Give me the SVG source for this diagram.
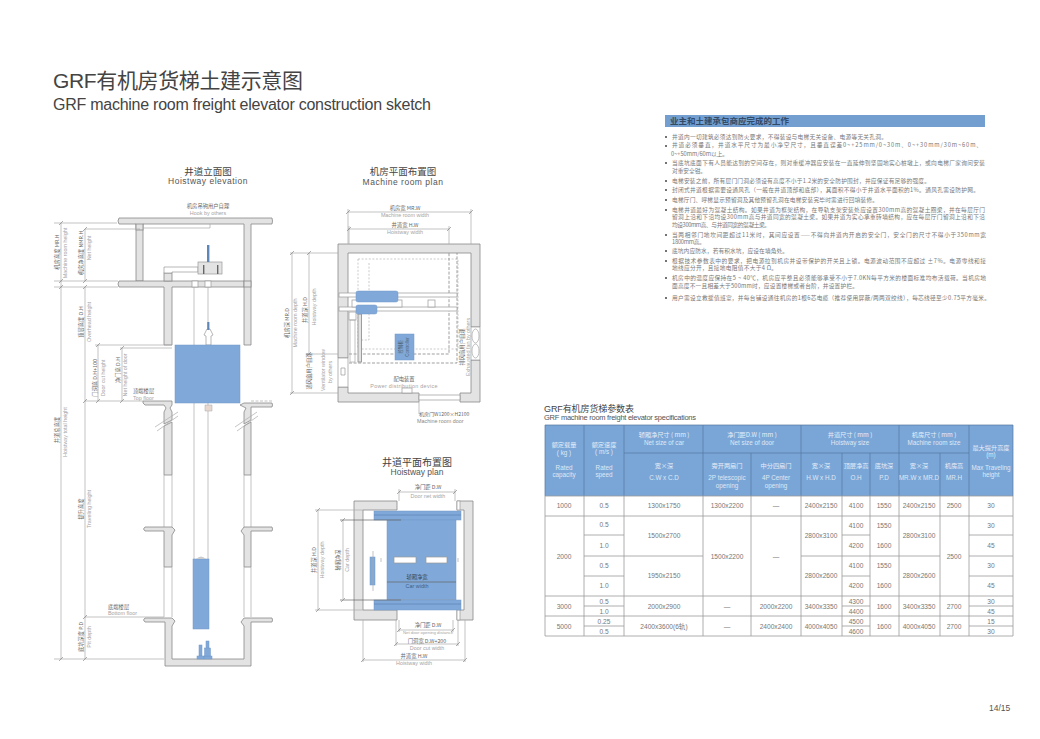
<svg xmlns="http://www.w3.org/2000/svg" width="1040" height="739" viewBox="0 0 1040 739">
<style>
text{font-family:"Liberation Sans","Noto Sans CJK SC",sans-serif}
.zh{font-family:"Noto Sans CJK SC","Liberation Sans",sans-serif;font-size:5.3px;fill:#666}
.en{font-size:5.4px;fill:#a5a5a5}
.m{text-anchor:middle}
.w{fill:#e3e3e3;stroke:#888;stroke-width:.8}
.b{fill:#80a9d9;stroke:#7098c8;stroke-width:.5}
.s{fill:#fff;stroke:#999;stroke-width:.7}
.d{fill:none;stroke:#b5b5b5;stroke-width:.7;stroke-dasharray:2 1.6}
.dk{fill:none;stroke:#777;stroke-width:.7;stroke-dasharray:3 1.6}
.l{fill:none;stroke:#aaa;stroke-width:.7}
.tick{fill:none;stroke:#777;stroke-width:.6}
.ln{font-family:"Noto Sans CJK SC","Liberation Sans",sans-serif;font-size:5.7px;fill:#777}
.h{fill:#dfe9f6;font-size:6.3px;text-anchor:middle}
.hz{fill:#e6eef9;font-family:"Noto Sans CJK SC","Liberation Sans",sans-serif;font-size:6.2px;text-anchor:middle}
.c{fill:#777;font-size:6.6px;text-anchor:middle}
.tl{stroke:#999;stroke-width:.8;fill:none}
.hl{stroke:#55779e;stroke-width:.7;fill:none}
</style>

<g id="title">
<text x="53" y="88" font-size="21" fill="#444" textLength="250" lengthAdjust="spacing">GRF有机房货梯土建示意图</text>
<text x="53" y="110" font-size="16" fill="#444" textLength="378" lengthAdjust="spacing">GRF machine room freight elevator construction sketch</text>
</g>

<g id="hoistway-elevation">
<text x="208" y="175" class="m" font-size="9.500" fill="#444" font-family="Noto Sans CJK SC">井道立面图</text>
<text x="208" y="184" class="m" font-size="8.500" fill="#555" letter-spacing=".5">Hoistway elevation</text>
<text x="208" y="208" class="zh m">机房吊钩用户自理</text>
<text x="208" y="215" class="en m">Hook by others</text>
<path class="w" d="M119 218H272Q273 221 272 224H251V345H244V224H143V281H136V224H119Q117 221 119 218Z"/>
<rect class="w" x="136" y="224" width="7" height="6"/>
<path class="w" d="M119 281H244V287H172V345H164V287H119Q117 284 119 281Z"/>
<rect class="w" x="244" y="281" width="7" height="6" stroke="none"/>
<rect class="w" x="164" y="273" width="8" height="8"/>
<path class="s" d="M164 273V267H198V272H172V273Z"/>
<path class="l" d="M210 224V228H143"/>
<rect x="192" y="281" width="6" height="6" class="s"/><rect x="205" y="281" width="6" height="6" class="s"/>
<rect x="198" y="262" width="24" height="12" fill="#e3e3e3" stroke="#999" stroke-width=".7"/>
<rect x="207" y="245" width="2.400" height="17" fill="#5f86b8"/>
<rect x="203" y="265" width="1.400" height="9" fill="#666"/><rect x="217" y="265" width="1.400" height="9" fill="#666"/>
<path class="l" d="M194 287V559M208 287V322M208 403V559"/>
<path class="s" d="M207 329H210L213 335L211 336V345H206V336L204 335Z"/>
<rect x="207.200" y="322" width="2.200" height="8" fill="#5f86b8"/>
<rect class="b" x="175" y="345" width="65" height="58"/>
<path d="M205 405H212V411H205Z" fill="#e8d8d0" stroke="#aaa" stroke-width=".5"/>
<path class="w" d="M143 401H172V405L170 408L172 412V420L164 424V412L166 408L164 405H145Q142 403 143 401Z"/>
<path class="w" d="M244 403H272Q273 405 272 407H251V420L244 424V412L246 408L240 405Z"/>
<path class="l" d="M251 401H272" stroke-dasharray="3 1.500"/>
<path class="w" d="M164 426L172 422V475H164Z"/><path class="w" d="M244 426L251 422V475H244Z"/>
<path class="l" d="M155 427L178 412M157 431L178 416M235 427L257 412M237 431L258 416"/>
<path class="l" d="M164 475V527M172 475V527M244 475V527M251 475V527"/>
<path class="w" d="M145 527H172L175 530L172 535V567H164V531H145Q142 529 145 527Z"/>
<path class="w" d="M272 527Q273 529 272 531H251V567H244V535L241 531L244 527Z"/>
<path class="l" d="M164 567V617M172 567V617M244 567V617M251 567V617"/>
<path class="w" d="M145 618H172L175 621L172 626V659H244V626L241 622L244 618H272Q273 620 272 622H251V666H165V622H145Q142 620 145 618Z"/>
<rect class="b" x="193" y="559" width="16" height="70"/>
<path d="M196 559Q201 554 206 559Z" fill="#ccc"/>
<g class="b"><rect x="199" y="645" width="3" height="11"/><rect x="197" y="656" width="7" height="3"/><rect x="206" y="641" width="3" height="15"/><rect x="204" y="656" width="8" height="3"/><rect x="204.500" y="648" width="6" height="8"/></g>
<text transform="translate(59 252) rotate(-90)" class="zh m">机房高度 MR.H</text>
<text transform="translate(67 253) rotate(-90)" class="en m">Machine room height</text>
<text transform="translate(83 253) rotate(-90)" class="zh m">机房净高度 NMR.H</text>
<text transform="translate(91 248) rotate(-90)" class="en m">Net height</text>
<text transform="translate(83 322) rotate(-90)" class="zh m">顶层高度 O.H</text>
<text transform="translate(91 322) rotate(-90)" class="en m">Overhead height</text>
<text transform="translate(97 378) rotate(-90)" class="zh m">门洞高 D.H+100</text>
<text transform="translate(105 378) rotate(-90)" class="en m">Door cut height</text>
<text transform="translate(120 370) rotate(-90)" class="zh m">净门高 D.H</text>
<text transform="translate(127 375) rotate(-90)" class="en m">Net height of door</text>
<text x="133" y="393" class="zh">顶端楼层</text>
<text x="133" y="400" class="en">Top floor</text>
<text transform="translate(59 430) rotate(-90)" class="zh m">井道总高度</text>
<text transform="translate(67 432) rotate(-90)" class="en m">Hoistway total height</text>
<text transform="translate(83 509) rotate(-90)" class="zh m">提升高度</text>
<text transform="translate(91 509) rotate(-90)" class="en m">Traveling height</text>
<text x="108" y="609" class="zh">底端楼层</text>
<text x="108" y="615" class="en">Bottom floor</text>
<text transform="translate(83 637) rotate(-90)" class="zh m">底坑深度 P.D</text>
<text transform="translate(91 637) rotate(-90)" class="en m">Pit depth</text>
</g>

<g id="machine-room-plan">
<text x="403" y="175" class="m" font-size="9.500" fill="#444" font-family="Noto Sans CJK SC">机房平面布置图</text>
<text x="403" y="185" class="m" font-size="8.500" fill="#555" letter-spacing=".5">Machine room plan</text>
<text x="405" y="210" class="zh m">机房宽 MR.W</text>
<text x="405" y="217" class="en m">Machine room width</text>
<text x="405" y="227" class="zh m">井道宽 H.W</text>
<text x="405" y="234" class="en m">Hoistway width</text>
<path class="w" d="M338 244H480V327H471V253H348V358H338ZM338 387H348V393H419V402H338ZM460 402V393H471V360H480V402Z"/>
<path class="s" d="M338 358H348V387H338Z"/>
<path class="s" d="M341 368H345V375H341Z"/>
<path class="s" d="M471 327H480V360H471Z"/>
<ellipse cx="475.500" cy="336" rx="3.500" ry="7" fill="none" stroke="#999" stroke-width=".6"/>
<ellipse cx="475.500" cy="351" rx="3.500" ry="7" fill="none" stroke="#999" stroke-width=".6"/>
<path class="s" d="M419 395H460V400H419Z"/>
<rect class="s" x="402" y="388" width="10" height="5"/>
<rect class="d" x="358" y="259" width="100" height="90"/>
<path class="d" d="M369 263V340H359"/>
<path class="dk" d="M349 354H449V253M349 363H457V253"/>
<rect class="s" x="339" y="293" width="118" height="4"/>
<rect class="s" x="339" y="307" width="118" height="4"/>
<rect class="s" x="352" y="300" width="50" height="7" fill="none"/>
<rect class="s" x="428" y="300" width="7" height="7"/>
<rect x="349" y="312" width="7" height="8" class="s"/>
<rect class="w" x="358" y="314" width="3.500" height="48"/>
<rect class="l" x="350" y="320" width="5" height="42"/>
<rect class="b" x="356" y="291" width="42" height="11" rx="2"/>
<rect class="b" x="356" y="305" width="21" height="9" rx="2"/>
<rect class="b" x="395" y="334" width="19" height="26"/>
<text transform="translate(402 347) rotate(-90)" class="zh m" style="font-size:4.500px;fill:#456">控制柜</text>
<text transform="translate(409 347) rotate(-90)" class="en m" style="font-size:4.500px;fill:#567">Controller</text>
<text x="404" y="381" class="zh m">配电装置</text>
<text x="404" y="388" class="en m" style="letter-spacing:.3px">Power distribution device</text>
<text x="419" y="416" class="zh" style="font-size:5px">机房门W1200×H2100</text>
<text x="417" y="423" class="en" style="fill:#888">Machine room door</text>
<text transform="translate(289 323) rotate(-90)" class="zh m">机房深 MR.D</text>
<text transform="translate(297 323) rotate(-90)" class="en m">Machine room depth</text>
<text transform="translate(307 310) rotate(-90)" class="zh m">井道深 H.D</text>
<text transform="translate(316 307) rotate(-90)" class="en m">Hoistway depth</text>
<text transform="translate(311 371) rotate(-90)" class="zh m">通风窗用户自理</text>
<text transform="translate(325 370) rotate(-90)" class="en m">Ventilator window</text>
<text transform="translate(332 372) rotate(-90)" class="en m">by others</text>
<text transform="translate(464 347) rotate(-90)" class="zh m">排风扇用户自理</text>
<text transform="translate(470 347) rotate(-90)" class="en m">Exhausted fan by others</text>
</g>

<g id="hoistway-plan">
<text x="417" y="466" class="m" font-size="10" fill="#444" font-family="Noto Sans CJK SC">井道平面布置图</text>
<text x="417" y="475" class="m" font-size="8.500" fill="#555">Hoistway plan</text>
<path class="w" d="M354 501H397V510H363V610H397V620H354Z"/>
<path class="w" d="M457 501H473V620H457V610H464V510H457Z"/>
<rect class="s" x="457" y="501" width="3" height="9"/><rect class="s" x="457" y="610" width="3" height="10"/>
<rect class="b" x="374" y="511" width="87" height="9"/>
<rect class="b" x="387" y="520" width="69" height="80"/>
<path class="l" d="M387 600H456"/>
<rect class="b" x="374" y="600" width="87" height="10"/>
<path d="M374 604H461M374 515H461" stroke="#5f86b8" stroke-width=".8"/>
<rect class="b" x="370" y="557" width="5" height="28"/>
<rect class="s" x="394" y="557" width="22" height="6"/>
<rect class="s" x="426" y="557" width="21" height="6"/>
<path class="l" d="M373 551V591M381 558V562M458 558V562"/>
<text x="428" y="489" class="zh m">净门距 D.W</text>
<text x="428" y="498" class="en m">Door net width</text>
<text x="417" y="579" class="zh m" style="fill:#345">轿厢净宽</text>
<text x="417" y="588" class="en m" style="fill:#3f5f86">Car width</text>
<text x="428" y="627" class="zh m">净门距 D.W</text>
<text x="428" y="634" class="en m" style="font-size:4.300px">Net door opening distance</text>
<text x="427" y="643" class="zh m">门洞宽 D.W+200</text>
<text x="427" y="650" class="en m">Door cut width</text>
<text x="414" y="658" class="zh m">井道宽 H.W</text>
<text x="414" y="665" class="en m">Hoistway width</text>
<text transform="translate(316 560) rotate(-90)" class="zh m">井道深 H.D</text>
<text transform="translate(324 560) rotate(-90)" class="en m">Hoistway depth</text>
<text transform="translate(340 560) rotate(-90)" class="zh m">轿厢净深</text>
<text transform="translate(349 560) rotate(-90)" class="en m">Car depth</text>
</g>

<g id="connectors">
<path class="l" d="M61 223V287M61 287V659M85 229V281M85 287V659M98 345V401M122 348V401"/>
<path class="l" d="M54 223H117M85 229H140M54 281H118M54 287H118M95 345H172M120 348H172M85 401H143M85 617H164M54 659H164"/>
<path class="tick" d="M59 225L63 221M59 283L63 279M59 289L63 285M59 661L63 657M83 231L87 227M83 283L87 279M83 289L87 285M83 403L87 399M83 619L87 615M83 661L87 657M96 347L100 343M96 403L100 399M120 350L124 346M120 403L124 399"/>
<path class="l" d="M348 212H471M348 229H449M348 209V244M471 209V244M349 226V244M449 226V244M292 253V393M309 253V354M290 253H338M307 354H338M290 393H338M419 402V414"/>
<path class="tick" d="M346 214L350 210M469 214L473 210M347 231L351 227M447 231L451 227M290 255L294 251M290 395L294 391M307 255L311 251M307 356L311 352"/>
<path class="l" d="M399 492H455M399 489V501M455 489V501M318 510V610M343 520V599M315 510H363M315 610H363M399 630H453M396 644H458M363 660H465M399 620V632M453 620V632M396 620V646M458 620V646M363 620V662M465 620V662"/>
<path d="M340 520H401M340 600H401M387 582H456" fill="none" stroke="#666" stroke-width=".7"/>
<path class="tick" d="M397 494L401 490M453 494L457 490M316 512L320 508M316 612L320 608M341 522L345 518M341 602L345 598M397 632L401 628M451 632L455 628M394 646L398 642M456 646L460 642M361 662L365 658M463 662L467 658"/>
</g>

<g id="work-list">
<rect x="665" y="115" width="320" height="12" fill="#739fd0"/>
<text x="670" y="124" font-size="8.500" fill="#334a66" font-family="Noto Sans CJK SC" font-weight="700">业主和土建承包商应完成的工作</text>
<g fill="#444">
<circle cx="666" cy="137" r="1"/><circle cx="666" cy="146" r="1"/><circle cx="666" cy="163" r="1"/><circle cx="666" cy="181" r="1"/><circle cx="666" cy="190" r="1"/><circle cx="666" cy="200" r="1"/><circle cx="666" cy="210" r="1"/><circle cx="666" cy="235" r="1"/><circle cx="666" cy="251" r="1"/><circle cx="666" cy="261" r="1"/><circle cx="666" cy="278" r="1"/><circle cx="666" cy="298" r="1"/>
</g>
<text x="672" y="139" class="ln" textLength="215">井道内一切建筑必须达到防火要求，不得装设与电梯无关设备、电源等无关孔洞。</text>
<text x="672" y="147" class="ln" textLength="310">井道必须垂直，井道水平尺寸为最小净空尺寸，且垂直误差0~+25mm/0~30m、0~+30mm/30m~60m、</text>
<text x="671" y="156" class="ln" textLength="57">0~+50mm/60m以上。</text>
<text x="672" y="165" class="ln" textLength="313">当底坑底面下有人员能达到的空间存在，则对重缓冲器应安装在一直延伸到坚固地实心桩墩上，或向电梯厂家询问安装</text>
<text x="672" y="173" class="ln" textLength="34">对重安全钳。</text>
<text x="672" y="183" class="ln" textLength="258">电梯安装之前，所有层门门洞必须设有高度不小于1.2米的安全防护围封，并应保证有足够的强度。</text>
<text x="672" y="192" class="ln" textLength="307">封闭式井道根据需要设通风孔（一般在井道顶部和底部），其面积不得小于井道水平面积的1%。通风孔需设防护网。</text>
<text x="672" y="202" class="ln" textLength="206">电梯厅门、呼梯显示预留洞及其他预留孔洞在电梯安装完毕时需进行回填装修。</text>
<text x="672" y="212" class="ln" textLength="313">电梯井道最好为混凝土结构。如果井道为框架结构，在导轨支架安装处应设置300mm高的混凝土圈梁，并在每层厅门</text>
<text x="672" y="219" class="ln" textLength="313">留洞上沿和下沿均设300mm高与井道同宽的混凝土梁。如果井道为实心承重砖墙结构，应在每层厅门留洞上沿和下沿</text>
<text x="672" y="227" class="ln" textLength="98">均设300mm高、与井道同宽的混凝土梁。</text>
<text x="672" y="237" class="ln" textLength="314">当两相邻门地坎间距超过11米时，其间应设置——不得向井道内开启的安全门，安全门的尺寸不得小于350mm宽</text>
<text x="672" y="244" class="ln" textLength="33">1800mm高。</text>
<text x="672" y="253" class="ln" textLength="116">底坑内应防水，若有积水坑，应设在墙角处。</text>
<text x="672" y="263" class="ln" textLength="314">根据技术参数表中的要求，把电源拉到机房并设带保护的开关且上锁。电源波动范围不应超过 ±7%。电源零线和接</text>
<text x="672" y="270" class="ln" textLength="105">地线应分开，且接地电阻值不大于4 Ω。</text>
<text x="672" y="280" class="ln" textLength="314">机房中的温度应保持在5 ~ 40℃，机房应平整且必须能够承受不小于7.0KN每平方米的楼面标准均布活载荷。当机房地</text>
<text x="672" y="288" class="ln" textLength="186">面高度不一且相差大于500mm时，应设置楼梯或者台阶，并设置护栏。</text>
<text x="672" y="300" class="ln" textLength="318">用户需设立救援值班室，并每台铺设通往机房的1根6芯电缆（推荐使用屏蔽/两两双绞线），每芯线径至少0.75平方毫米。</text>
</g>

<g id="spec-table">
<text x="544" y="412" font-size="9" fill="#444" textLength="90">GRF有机房货梯参数表</text>
<text x="544" y="420" font-size="7.500" fill="#555" textLength="152">GRF machine room freight elevator specifications</text>
<rect x="545" y="425" width="468" height="71" fill="#7aa6d7"/>
<path class="hl" d="M545 425H1013M624 453H969M584 425V496M624 425V496M703 425V496M751 453V496M801 425V496M842 453V496M870 453V496M899 425V496M940 453V496M969 425V496M1013 425V496M545 425V496"/>
<path class="tl" d="M545 496V636M584 496V636M624 496V636M703 496V636M751 496V636M801 496V636M899 496V636M940 496V636M969 496V636M1013 496V636M842 496V636M870 496V636M545 496H1013M545 516H1013M545 596H1013M545 616H1013M545 636H1013M584 535H624M584 556H703M584 576H624M801 556H940M969 556H1013M842 535H870M842 576H870M969 535H1013M969 576H1013M584 606H624M842 606H870M969 606H1013M584 626H624M842 626H870M969 626H1013"/>
<text x="564" y="447" class="hz">额定载量</text><text x="564" y="455" class="h">( kg )</text><text x="564" y="470" class="h">Rated</text><text x="564" y="477" class="h">capacity</text>
<text x="604" y="447" class="hz">额定速度</text><text x="604" y="454" class="h">( m/s )</text><text x="604" y="470" class="h">Rated</text><text x="604" y="477" class="h">speed</text>
<text x="664" y="437" class="hz">轿厢净尺寸 ( mm )</text><text x="664" y="445" class="h">Net size of car</text>
<text x="664" y="468" class="hz">宽×深</text><text x="664" y="480" class="h">C.W x C.D</text>
<text x="752" y="437" class="hz">净门距D.W ( mm )</text><text x="752" y="445" class="h">Net size of door</text>
<text x="727" y="468" class="hz">旁开两扇门</text><text x="727" y="480" class="h">2P telescopic</text><text x="727" y="488" class="h">opening</text>
<text x="776" y="468" class="hz">中分四扇门</text><text x="776" y="480" class="h">4P Center</text><text x="776" y="488" class="h">opening</text>
<text x="850" y="437" class="hz">井道尺寸 ( mm )</text><text x="850" y="445" class="h">Hoistway size</text>
<text x="821" y="468" class="hz">宽×深</text><text x="821" y="480" class="h">H.W x H.D</text>
<text x="856" y="468" class="hz">顶层净高</text><text x="856" y="480" class="h">O.H</text>
<text x="884" y="468" class="hz">底坑深</text><text x="884" y="480" class="h">P.D</text>
<text x="934" y="437" class="hz">机房尺寸 ( mm )</text><text x="934" y="445" class="h">Machine room size</text>
<text x="919" y="468" class="hz">宽×深</text><text x="919" y="480" class="h">MR.W x MR.D</text>
<text x="954" y="468" class="hz">机房高</text><text x="954" y="480" class="h">MR.H</text>
<text x="991" y="450" class="hz">最大提升高度</text><text x="991" y="457" class="h">(m)</text><text x="991" y="470" class="h">Max Traveling</text><text x="991" y="477" class="h">height</text>
<text x="564" y="508" class="c">1000</text><text x="604" y="508" class="c">0.5</text><text x="664" y="508" class="c">1300x1750</text><text x="727" y="508" class="c">1300x2200</text><text x="776" y="508" class="c">—</text><text x="821" y="508" class="c">2400x2150</text><text x="856" y="508" class="c">4100</text><text x="884" y="508" class="c">1550</text><text x="919" y="508" class="c">2400x2150</text><text x="954" y="508" class="c">2500</text><text x="991" y="508" class="c">30</text>
<text x="564" y="559" class="c">2000</text><text x="604" y="527" class="c">0.5</text><text x="604" y="548" class="c">1.0</text><text x="604" y="568" class="c">0.5</text><text x="604" y="588" class="c">1.0</text>
<text x="664" y="538" class="c">1500x2700</text><text x="664" y="578" class="c">1950x2150</text><text x="727" y="559" class="c">1500x2200</text><text x="776" y="559" class="c">—</text>
<text x="821" y="538" class="c">2800x3100</text><text x="821" y="578" class="c">2800x2600</text>
<text x="856" y="528" class="c">4100</text><text x="856" y="548" class="c">4200</text><text x="856" y="568" class="c">4100</text><text x="856" y="588" class="c">4200</text>
<text x="884" y="528" class="c">1550</text><text x="884" y="548" class="c">1600</text><text x="884" y="568" class="c">1550</text><text x="884" y="588" class="c">1600</text>
<text x="919" y="538" class="c">2800x3100</text><text x="919" y="578" class="c">2800x2600</text><text x="954" y="559" class="c">2500</text>
<text x="991" y="528" class="c">30</text><text x="991" y="548" class="c">45</text><text x="991" y="568" class="c">30</text><text x="991" y="588" class="c">45</text>
<text x="564" y="609" class="c">3000</text><text x="604" y="604" class="c">0.5</text><text x="604" y="614" class="c">1.0</text><text x="664" y="609" class="c">2000x2900</text><text x="727" y="609" class="c">—</text><text x="776" y="609" class="c">2000x2200</text><text x="821" y="609" class="c">3400x3350</text><text x="856" y="604" class="c">4300</text><text x="856" y="614" class="c">4400</text><text x="884" y="609" class="c">1600</text><text x="919" y="609" class="c">3400x3350</text><text x="954" y="609" class="c">2700</text><text x="991" y="604" class="c">30</text><text x="991" y="614" class="c">45</text>
<text x="564" y="629" class="c">5000</text><text x="604" y="624" class="c">0.25</text><text x="604" y="634" class="c">0.5</text><text x="664" y="629" class="c">2400x3600(6轨)</text><text x="727" y="629" class="c">—</text><text x="776" y="629" class="c">2400x2400</text><text x="821" y="629" class="c">4000x4050</text><text x="856" y="624" class="c">4500</text><text x="856" y="634" class="c">4600</text><text x="884" y="629" class="c">1600</text><text x="919" y="629" class="c">4000x4050</text><text x="954" y="629" class="c">2700</text><text x="991" y="624" class="c">15</text><text x="991" y="634" class="c">30</text>
</g>
<text id="page-number" x="989" y="711" font-size="8.500" fill="#555">14/15</text>
</svg>
